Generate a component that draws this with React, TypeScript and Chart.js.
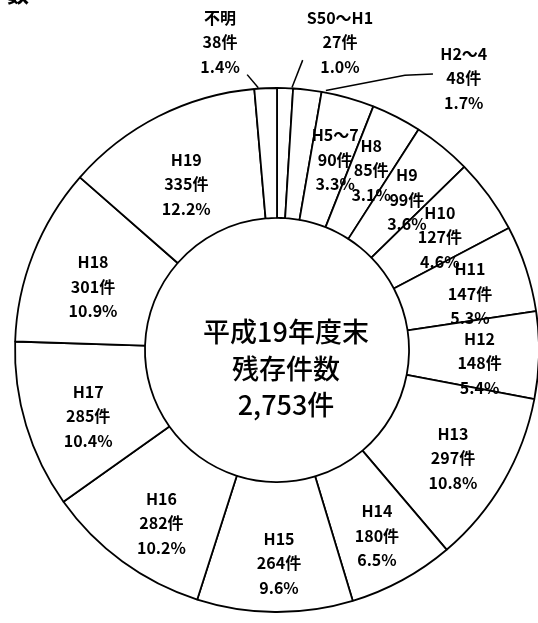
import React, { useEffect, useRef } from "react";
import { Chart, registerables } from "chart.js";

Chart.register(...registerables);

// ---- data ----
const CATEGORIES = ["S50～H1", "H2～4", "H5～7", "H8", "H9", "H10", "H11", "H12", "H13", "H14", "H15", "H16", "H17", "H18", "H19", "不明"];
const COUNTS = [27, 48, 90, 85, 99, 127, 147, 148, 297, 180, 264, 282, 285, 301, 335, 38];
const PERCENTS = ["1.0", "1.7", "3.3", "3.1", "3.6", "4.6", "5.3", "5.4", "10.8", "6.5", "9.6", "10.2", "10.4", "10.9", "12.2", "1.4"];
const CENTER_LINES = ["平成19年度末", "残存件数", "2,753件"];
const TITLE_FRAGMENT = "数";

// ---- label placement (style): radius in px from centre, angle shift in degrees from arc middle ----
const LABEL_RADIUS = [314, 330, 199, 203, 198.5, 198, 201, 203, 206.5, 211, 213, 208, 200, 194.5, 189, 313];
const LABEL_SHIFT = [9.8, 27.8, 1.3, 0.5, 1.7, 1.4, 1.9, 2.6, 1.3, 0.3, -1.0, -2.4, -2.5, -2.6, -1.8, -8.0];
const LEADERS: Record<number, [number, number][]> = {
  0: [[263, 1.5], [291, 3.3]],
  1: [[264, 4.0], [303, 18.3], [317, 22.8]],
  15: [[263, -1.6], [277, -3.7]],
};
const CENTER_OFFSETS = [-18, 19, 55];

const LABEL_FONT = "bold 16px 'Noto Sans CJK JP', sans-serif";
const CENTER_FONT = "500 27px 'Noto Sans CJK JP', sans-serif";

const labelPlugin = {
  id: "ringLabels",
  afterDatasetsDraw(chart: any) {
    const ctx = chart.ctx as CanvasRenderingContext2D;
    const meta = chart.getDatasetMeta(0);
    ctx.save();
    ctx.fillStyle = "#000";
    ctx.strokeStyle = "#000";
    meta.data.forEach((arc: any, i: number) => {
      const { x, y, startAngle, endAngle } = arc.getProps(["x", "y", "startAngle", "endAngle"], true);
      const mid = (startAngle + endAngle) / 2;
      const pt = (r: number, d: number): [number, number] => {
        const a = mid + (d * Math.PI) / 180;
        return [x + r * Math.cos(a), y + r * Math.sin(a)];
      };
      const lead = LEADERS[i];
      if (lead) {
        ctx.beginPath();
        lead.forEach(([r, d], k) => {
          const [px, py] = pt(r, d);
          if (k === 0) ctx.moveTo(px, py);
          else ctx.lineTo(px, py);
        });
        ctx.lineWidth = 1.5;
        ctx.stroke();
      }
      const [lx, ly] = pt(LABEL_RADIUS[i], LABEL_SHIFT[i]);
      ctx.font = LABEL_FONT;
      ctx.textAlign = "center";
      ctx.textBaseline = "middle";
      [CATEGORIES[i], `${COUNTS[i]}件`, `${PERCENTS[i]}%`].forEach((t, k) => {
        ctx.fillText(t, lx, ly + (k - 1) * 24.5);
      });
    });
    const c = meta.data[0];
    ctx.font = CENTER_FONT;
    ctx.textAlign = "center";
    ctx.textBaseline = "middle";
    CENTER_LINES.forEach((t, k) => ctx.fillText(t, c.x + 9, c.y + CENTER_OFFSETS[k]));
    ctx.font = "bold 22px 'Noto Sans CJK JP', sans-serif";
    ctx.textAlign = "left";
    ctx.textBaseline = "alphabetic";
    ctx.fillText(TITLE_FRAGMENT, 7, 2);
    ctx.restore();
  },
};

export default function App() {
  const ref = useRef<HTMLCanvasElement | null>(null);
  useEffect(() => {
    if (!ref.current) return;
    const chart = new Chart(ref.current, {
      type: "doughnut",
      data: {
        labels: CATEGORIES,
        datasets: [
          {
            data: COUNTS,
            backgroundColor: "#ffffff",
            borderColor: "#000000",
            borderWidth: 1.8,
            borderAlign: "center",
          },
        ],
      },
      options: {
        responsive: false,
        animation: false,
        radius: 262,
        cutout: "50.4%",
        rotation: 0,
        layout: { padding: { left: 20, right: 4, top: 80, bottom: 3 } },
        plugins: {
          legend: { display: false },
          tooltip: { enabled: false },
        },
      } as any,
      plugins: [labelPlugin],
    });
    return () => chart.destroy();
  }, []);
  return (
    <div style={{ position: "absolute", left: 0, top: 0, width: 538, height: 623, background: "#fff" }}>
      <canvas ref={ref} width={538} height={623} style={{ display: "block" }} />
    </div>
  );
}
